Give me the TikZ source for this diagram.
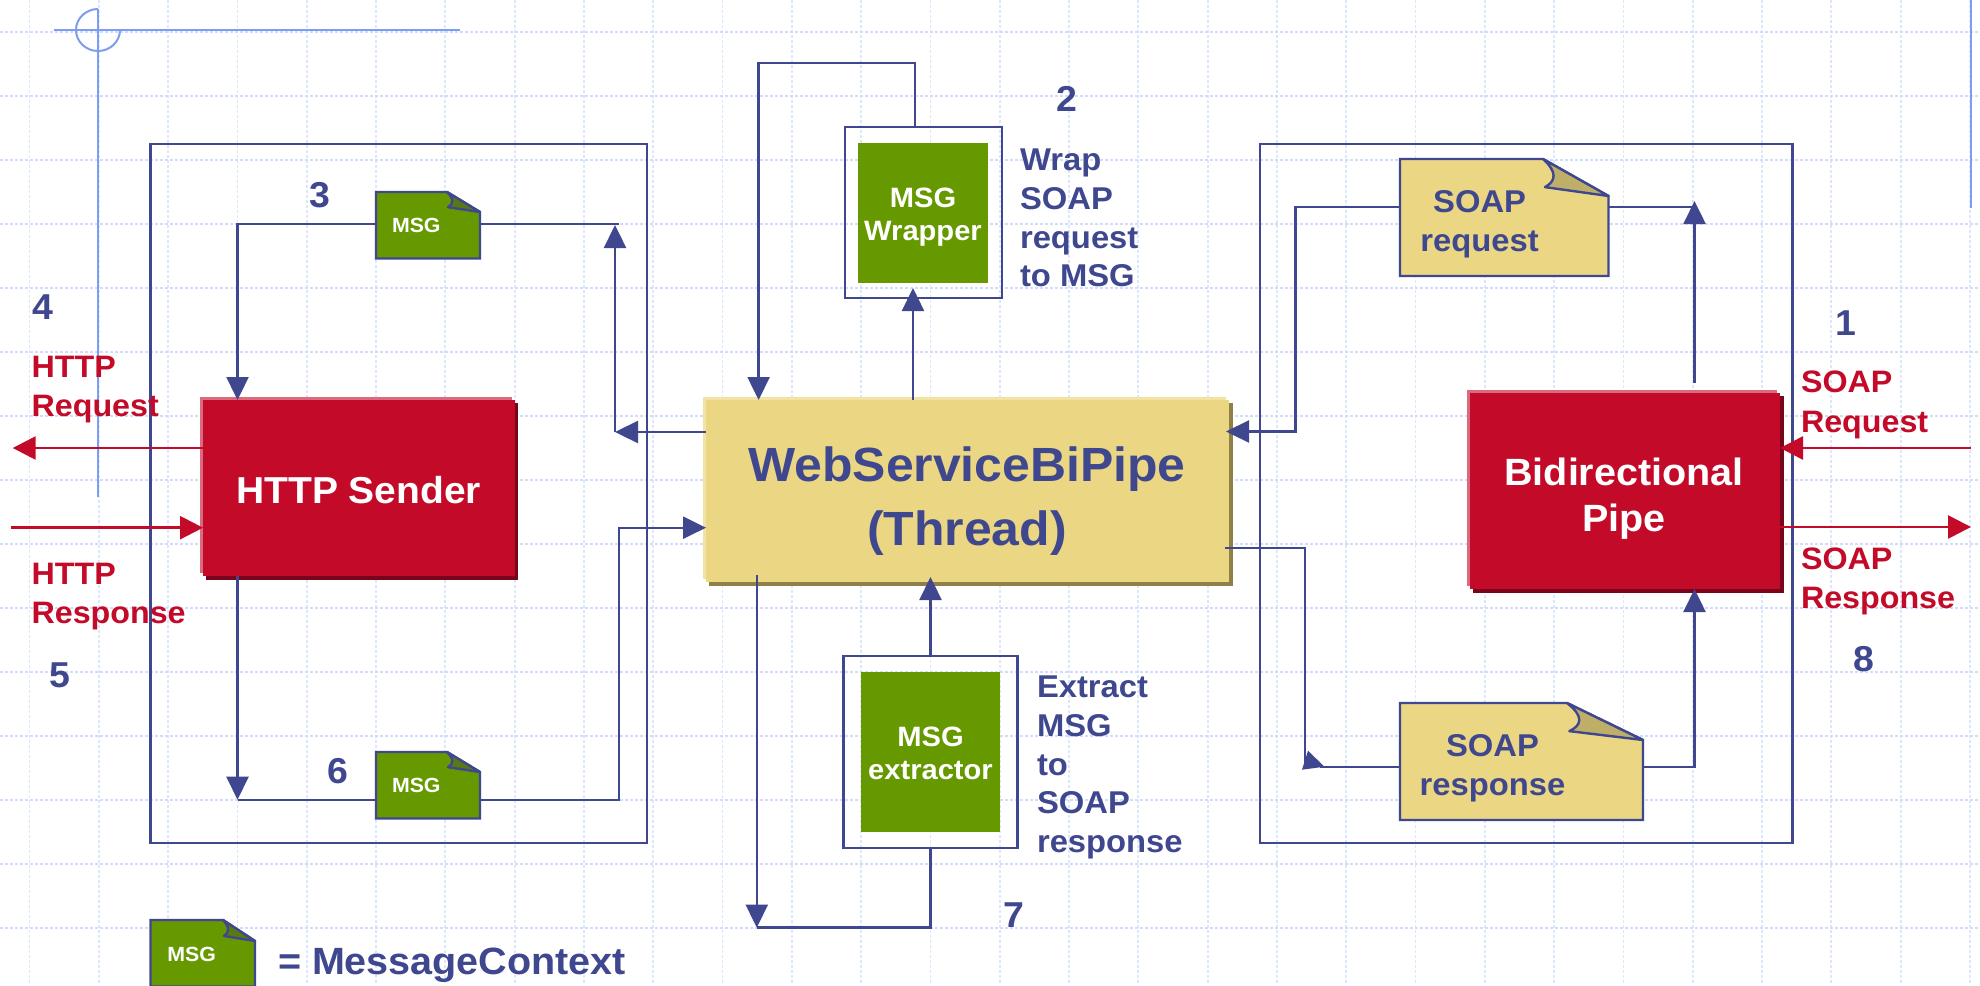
\documentclass[tikz,border=0pt]{standalone}
\usepackage{fontspec}
\setmainfont[BoldFont={Liberation Sans Bold}]{Liberation Sans}
\newfontfamily\lab[FakeStretch=1.04]{Liberation Sans Bold}
\usetikzlibrary{arrows.meta}
\definecolor{navy}{HTML}{3F478F}
\definecolor{crim}{HTML}{C30A28}
\definecolor{crimhi}{HTML}{DA6A7E}
\definecolor{crimsh}{HTML}{78051C}
\definecolor{sand}{HTML}{EAD683}
\definecolor{sandhi}{HTML}{F1E3A3}
\definecolor{sandsh}{HTML}{8F8048}
\definecolor{sandfold}{HTML}{BFAE68}
\definecolor{leaf}{HTML}{669900}
\definecolor{leaffold}{HTML}{587A10}
\definecolor{griddot}{HTML}{CFDDFB}
\definecolor{griddotv}{HTML}{DCE6FC}
\definecolor{guide}{HTML}{7C9DF2}
\tikzset{
  gridline/.style={griddot,line width=2.2pt,dash pattern=on 2.5pt off 2.5pt},
  gridlinev/.style={griddotv,line width=1.8pt,dash pattern=on 3pt off 2pt},
  guideline/.style={guide,line width=2pt},
  shapebox/.style={inner sep=0pt,outer sep=0pt},
  conn/.style={navy,line width=2.4pt},
  conna/.style={conn,-{Triangle[length=23pt,width=22pt]}},
  redconn/.style={crim,line width=2.6pt,-{Triangle[length=23pt,width=23pt]}},
  txt/.style={inner sep=0pt,outer sep=0pt,font=\lab},
  num/.style={txt,text=navy,font=\fontsize{36}{36}\selectfont\lab},
  side/.style={txt,text=navy,align=left,anchor=west,font=\fontsize{31.5}{38.7}\selectfont\lab},
  redlab/.style={txt,text=crim,align=left,anchor=west,font=\fontsize{31}{39.5}\selectfont\lab},
  whitelab/.style={txt,text=white,align=center},
  navylab/.style={txt,text=navy,align=center},
}
% layered block: name, x1,y1,x2,y2 (main face), fill, highlight, shadow
\newcommand{\layered}[8]{%
  \fill[#8] (#2+3,#3+3) rectangle (#4+3.5,#5+3.5);
  \fill[#7] (#2-3,#3-3) rectangle (#4-3,#5-3);
  \node[shapebox,fill=#6,minimum width={(#4-#2)*1pt},minimum height={(#5-#3)*1pt}] (#1) at ({(#2+#4)/2},{(#3+#5)/2}) {};
}
% dog-eared note: name, x1,y1,x2,y2, foldx, foldy, fill, foldfill
\newcommand{\dognote}[9]{%
  \node[shapebox,minimum width={(#4-#2)*1pt},minimum height={(#5-#3)*1pt}] (#1) at ({(#2+#4)/2},{(#3+#5)/2}) {};
  \filldraw[draw=navy,line width=2.4pt,fill=#8,line join=miter] (#2,#3) -- (#6,#3) -- (#4,#7) -- (#4,#5) -- (#2,#5) -- cycle;
  \filldraw[draw=navy,line width=2.4pt,fill=#9,line join=round] (#6,#3) .. controls ({#6+0.22*(#4-#6)},{#3+0.35*(#7-#3)}) and ({#6+0.2*(#4-#6)},{#3+0.6*(#7-#3)}) .. ({#6+0.03*(#4-#6)},{#3+0.76*(#7-#3)}) -- (#4,#7) -- cycle;
}
\begin{document}
\begin{tikzpicture}[x=1pt,y=-1pt]
\useasboundingbox (0,0) rectangle (1980,985);
\fill[white] (0,0) rectangle (1980,985);
% dotted grid
\foreach \k in {0,...,28} \draw[gridlinev] ({29.5+69.3*\k},0) -- ({29.5+69.3*\k},985);
\foreach \k in {0,...,14} \draw[gridline] (0,{32+64*\k}) -- (1980,{32+64*\k});
% guides
\draw[guideline] (53.6,30) -- (460,30);
\draw[guideline] (98,9) -- (98,497);
\draw[guideline] (98,9) arc[start angle=90,end angle=360,x radius=22pt,y radius=21pt];
\draw[guideline] (1970.6,0) -- (1970.6,208);
% frames
\node[shapebox,draw=navy,line width=2.4pt,minimum width=496.5pt,minimum height=699pt] (leftframe) at (398.75,493.5) {};
\node[shapebox,draw=navy,line width=2.4pt,minimum width=532.5pt,minimum height=699pt] (rightframe) at (1526.25,493.5) {};
% blocks
\layered{http}{203}{400}{514.5}{576}{crim}{crimhi}{crimsh}
\layered{pipe}{1469.5}{392.5}{1780}{589}{crim}{crimhi}{crimsh}
\layered{ws}{706}{400}{1229}{582}{sand}{sandhi}{sandsh}
% wrapper / extractor
\node[shapebox,draw=navy,line width=2.4pt,minimum width=157pt,minimum height=171pt] (wrapbox) at (923.3,212.2) {};
\node[shapebox,fill=leaf,minimum width=130pt,minimum height=140pt] (wrapgreen) at (923,213) {};
\node[shapebox,draw=navy,line width=2.4pt,minimum width=174pt,minimum height=192pt] (extbox) at (930.5,752) {};
\node[shapebox,fill=leaf,minimum width=139pt,minimum height=160pt] (extgreen) at (930.5,752) {};
% notes
\dognote{msgtop}{376}{192}{480}{258.5}{447}{212}{leaf}{leaffold}
\dognote{msgbot}{376}{752}{480}{818.5}{447}{772}{leaf}{leaffold}
\dognote{msgleg}{150.5}{920}{255}{986.5}{223}{941}{leaf}{leaffold}
\dognote{soapreq}{1400}{159}{1608.5}{276}{1543}{196}{sand}{sandfold}
\dognote{soapres}{1400}{703}{1643}{820}{1567}{740}{sand}{sandfold}
% connectors: HTTP side
\draw[conna] (msgtop.west |- 0,224) -- (237.5,224) -- (237.5,0 |- http.north);
\draw[conn] (msgtop.east |- 0,224) -- (619,224);
\coordinate (lup) at (615,432);
\draw[conna] (lup) -- (615,225);
\draw[conna] (ws.west |- 0,432) -- (lup);
\draw[conna] (237.5,0 |- http.south) -- (237.5,799.7);
\draw[conn] (237.5,799.7) -- (msgbot.west |- 0,799.7);
\draw[conna] (msgbot.east |- 0,799.7) -- (618.7,799.7) -- (618.7,527.7) -- (ws.west |- 0,527.7);
% red arrows
\coordinate (lredin) at (11,527.7);
\coordinate (lredout) at (12.7,448);
\coordinate (rredin) at (1971,448);
\coordinate (rredout) at (1971,527);
\draw[redconn] (http.west |- lredout) -- (lredout);
\draw[redconn] (lredin) -- (http.west |- lredin);
\draw[redconn] (rredin) -- (pipe.east |- rredin);
\draw[redconn] (pipe.east |- rredout) -- (rredout);
% connectors: centre
\draw[conna] (915,0 |- wrapbox.north) -- (915,63) -- (758.6,63) -- (758.6,0 |- ws.north);
\draw[conna] (913,0 |- ws.north) -- (913,288);
\draw[conna] (756.8,575) -- (756.8,927.6);
\draw[conn] (756.8,927.6) -- (extbox.south |- 0,927.6) -- (extbox.south);
\draw[conna] (extbox.north) -- (extbox.north |- 0,577);
% connectors: pipe side
\draw[conna] (soapreq.west |- 0,206.7) -- (1295.5,206.7) -- (1295.5,431.5) -- (1226,431.5);
\draw[conn] (soapreq.east |- 0,206.7) -- (1694.5,206.7);
\draw[conna] (1694.5,383) -- (1694.5,201);
\draw[conn] (1225,547.7) -- (1305,547.7) -- (1305,766.7);
\draw[conn] (soapres.west |- 0,766.7) -- (1320,766.7);
\fill[navy] (1302,769.7) -- (1308,750.7) -- (1324.4,766.7) -- cycle;
\draw[conna] (soapres.east |- 0,766.7) -- (1694.5,766.7) -- (1694.5,0 |- pipe.south);
% texts
\node[whitelab,font=\fontsize{37.5}{37.5}\selectfont\lab] (httpt) at (358.7,490) {HTTP Sender};
\node[navylab,font=\fontsize{48}{64}\selectfont\lab] (wst) at (967,501) {WebServiceBiPipe\\(Thread)};
\node[whitelab,font=\fontsize{38}{46}\selectfont\lab] (pipet) at (1624,498.5) {Bidirectional\\Pipe};
\node[whitelab,font=\fontsize{28}{33}\selectfont\lab] (wrapt) at (923,217.5) {MSG\\Wrapper};
\node[whitelab,font=\fontsize{28}{33}\selectfont\lab] (extt) at (930.5,753.5) {MSG\\extractor};
\node[whitelab,font=\fontsize{20.5}{20.5}\selectfont\lab,anchor=west] (m1) at (392,225.7) {MSG};
\node[whitelab,font=\fontsize{20.5}{20.5}\selectfont\lab,anchor=west] (m2) at (392,785.7) {MSG};
\node[whitelab,font=\fontsize{20.5}{20.5}\selectfont\lab,anchor=west] (m3) at (167.4,954) {MSG};
\node[navylab,font=\fontsize{31.5}{39}\selectfont\lab] (reqt) at (1479.6,224.5) {SOAP\\request};
\node[navylab,font=\fontsize{31.5}{39}\selectfont\lab] (rest) at (1492.5,768) {SOAP\\response};
\node[navylab,font=\fontsize{38}{38}\selectfont\lab,anchor=west] (legt) at (278,965) {= MessageContext};
\node[side] (wrapside) at (1020,218) {Wrap\\SOAP\\request\\to MSG};
\node[side] (extside) at (1037,767.5) {Extract\\MSG\\to\\SOAP\\response};
\node[redlab] (hreq) at (31.6,389.5) {HTTP\\Request};
\node[redlab] (hres) at (31.6,596.5) {HTTP\\Response};
\node[redlab] (sreq) at (1801,405) {SOAP\\Request};
\node[redlab] (sres) at (1801,581.5) {SOAP\\Response};
\node[num] (n1) at (1846,323) {1};
\node[num] (n2) at (1066.5,99) {2};
\node[num] (n3) at (320,195) {3};
\node[num] (n4) at (43,307) {4};
\node[num] (n5) at (60,675) {5};
\node[num] (n6) at (338,771) {6};
\node[num] (n7) at (1014,915) {7};
\node[num] (n8) at (1864,658.7) {8};
\end{tikzpicture}
\end{document}
